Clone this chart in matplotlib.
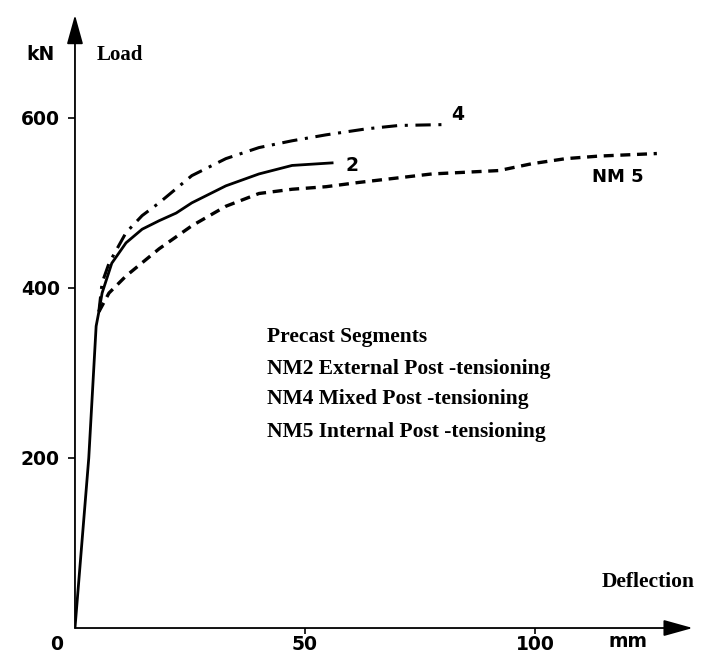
import matplotlib
matplotlib.use("Agg")
import matplotlib.pyplot as plt

# load-deflection curves (mm, kN)
nm2_x = [0, 3.0, 4.6, 5.2, 5.9, 8.0, 11.1, 14.6, 18.3, 22.0, 25.4, 32.8, 40.0, 47.2, 55.9]
nm2_y = [0, 200, 355, 372, 394, 429, 453, 469, 479, 488, 500, 520, 534, 544, 547]

nm4_x = [5.2, 5.9, 7.4, 11.1, 14.6, 18.3, 25.4, 32.8, 40.0, 47.2, 54.6, 63.3, 70.4, 79.8]
nm4_y = [372, 406, 429, 465, 485, 500, 532, 552, 565, 573, 580, 587, 591, 592]

nm5_x = [5.2, 7.4, 11.1, 18.3, 25.4, 32.8, 40.0, 47.2, 54.6, 61.7, 77.6, 92.2, 99.3, 106.7, 113.9, 126.5]
nm5_y = [372, 394, 414, 446, 473, 496, 511, 516, 519, 524, 534, 538, 546, 552, 555, 558]

x_ticks = [50, 100]
y_ticks = [200, 400, 600]

legend_lines = [
    "Precast Segments",
    "NM2 External Post -tensioning",
    "NM4 Mixed Post -tensioning",
    "NM5 Internal Post -tensioning",
]

SANS = "DejaVu Sans"
SERIF = "Liberation Serif"

fig = plt.figure(figsize=(7.02, 6.55), dpi=100)
ax = fig.add_axes([0.1068, 0.0412, 0.880, 0.936])
ax.set_xlim(0, 134.3)
ax.set_ylim(0, 721)

for s in ax.spines.values():
    s.set_visible(False)

# axes drawn as arrows
arrow = dict(arrowstyle="-|>,head_length=0.9,head_width=0.25", color="black",
             lw=1.3, mutation_scale=20, shrinkA=0, shrinkB=0)
ax.annotate("", xy=(1, 0), xytext=(0, 0), xycoords="axes fraction", arrowprops=arrow)
ax.annotate("", xy=(0, 1), xytext=(0, 0), xycoords="axes fraction", arrowprops=arrow)

ax.plot(nm2_x, nm2_y, color="black", lw=2.0, ls="-")
ax.plot(nm4_x, nm4_y, color="black", lw=2.2, ls=(0, (5, 2.5, 1, 2.5)))
ax.plot(nm5_x, nm5_y, color="black", lw=2.4, ls=(0, (3, 2)))

ax.set_xticks(x_ticks)
ax.set_xticklabels([str(v) for v in x_ticks])
ax.set_yticks(y_ticks)
ax.set_yticklabels([str(v) for v in y_ticks])
ax.tick_params(direction="out", length=5, width=1.2, labelsize=13.5)
ax.tick_params(axis="x", length=4, pad=1)
ax.tick_params(axis="y", pad=6)
for lab in ax.get_xticklabels() + ax.get_yticklabels():
    lab.set_fontfamily(SANS)
    lab.set_fontweight("bold")

ax.text(-3.9, -19, "0", ha="center", va="center", fontsize=13.5,
        fontweight="bold", family=SANS, clip_on=False)
ax.text(116, -16, "mm", ha="left", va="center", fontsize=13.5,
        fontweight="bold", family=SANS, clip_on=False)
ax.text(-7.6, 674, "kN", ha="center", va="center", fontsize=13.5,
        fontweight="bold", family=SANS, clip_on=False)
ax.text(4.8, 674, "Load", ha="left", va="center", fontsize=15,
        fontweight="bold", family=SERIF)
ax.text(114.6, 54, "Deflection", ha="left", va="center", fontsize=15.5,
        fontweight="bold", family=SERIF, clip_on=False)

# curve labels
ax.text(58.9, 544, "2", ha="left", va="center", fontsize=13.5, fontweight="bold", family=SANS)
ax.text(81.7, 604, "4", ha="left", va="center", fontsize=13.5, fontweight="bold", family=SANS)
ax.text(112.4, 530, "NM 5", ha="left", va="center", fontsize=13, fontweight="bold", family=SANS)

legend_y = [342, 305, 269, 231]
for txt, yy in zip(legend_lines, legend_y):
    ax.text(41.7, yy, txt, ha="left", va="center", fontsize=15.5,
            fontweight="bold", family=SERIF)

fig.savefig("out.png", dpi=100)
